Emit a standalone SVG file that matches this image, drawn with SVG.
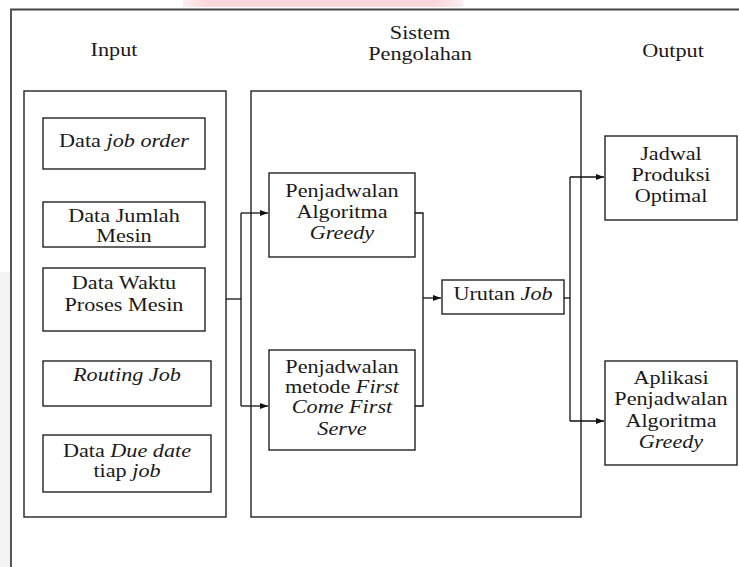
<svg xmlns="http://www.w3.org/2000/svg" width="739" height="567" viewBox="0 0 739 567">
<defs>
<linearGradient id="wm" x1="0" y1="0" x2="1" y2="0">
<stop offset="0" stop-color="#fdeef0"/>
<stop offset="0.1" stop-color="#fbd6da"/>
<stop offset="0.9" stop-color="#fbd6da"/>
<stop offset="1" stop-color="#fdeef0"/>
</linearGradient>
<marker id="arr" markerWidth="9" markerHeight="8" refX="8.5" refY="4" orient="auto" markerUnits="userSpaceOnUse">
<path d="M0,0.8 L8.5,4 L0,7.2 Z" fill="#111"/>
</marker>
</defs>
<style>
text{font-family:"Liberation Serif","Times New Roman",serif;font-size:18.5px;fill:#1a1a1a;text-anchor:middle}
.i{font-style:italic}
.box{fill:#fff;stroke:#222;stroke-width:1.4}
.frame{fill:none;stroke:#444;stroke-width:1.8}
.con{fill:none;stroke:#111;stroke-width:1.3}
</style>
<rect x="0" y="0" width="739" height="567" fill="#fff"/>
<rect x="0" y="272" width="10" height="295" fill="#f3f3f3"/>
<rect x="183" y="0" width="280" height="7" fill="url(#wm)"/>
<path class="frame" d="M11,567 V9.5 H739"/>

<g id="header-input"><text transform="scale(1.2,1)" x="95" y="56">Input</text></g>
<g id="header-sistem"><text transform="scale(1.2,1)" x="350" y="39">Sistem</text><text transform="scale(1.2,1)" x="350" y="60">Pengolahan</text></g>
<g id="header-output"><text transform="scale(1.2,1)" x="560.83" y="57">Output</text></g>

<g id="input-group"><rect class="box" x="24" y="91" width="202" height="426"/></g>
<g id="sistem-group"><rect class="box" x="251" y="91" width="330" height="426"/></g>

<g id="n-job-order"><rect class="box" x="43" y="118" width="162" height="51"/><text transform="scale(1.2,1)" x="103.33" y="147">Data <tspan class="i">job order</tspan></text></g>
<g id="n-jumlah-mesin"><rect class="box" x="43" y="202" width="162" height="45"/><text transform="scale(1.2,1)" x="103.33" y="222">Data Jumlah</text><text transform="scale(1.2,1)" x="103.33" y="242">Mesin</text></g>
<g id="n-waktu-proses"><rect class="box" x="43" y="268" width="162" height="63"/><text transform="scale(1.2,1)" x="103.33" y="289">Data Waktu</text><text transform="scale(1.2,1)" x="103.33" y="311">Proses Mesin</text></g>
<g id="n-routing"><rect class="box" x="43" y="361" width="168" height="45"/><text class="i" transform="scale(1.2,1)" x="105.83" y="381">Routing Job</text></g>
<g id="n-due-date"><rect class="box" x="43" y="435" width="168" height="57"/><text transform="scale(1.2,1)" x="105.83" y="457">Data <tspan class="i">Due date</tspan></text><text transform="scale(1.2,1)" x="105.83" y="477">tiap <tspan class="i">job</tspan></text></g>

<g id="n-greedy"><rect class="box" x="269" y="173" width="146" height="84"/><text transform="scale(1.2,1)" x="285" y="197">Penjadwalan</text><text transform="scale(1.2,1)" x="285" y="218">Algoritma</text><text class="i" transform="scale(1.2,1)" x="285" y="239">Greedy</text></g>
<g id="n-fcfs"><rect class="box" x="269" y="350" width="146" height="100"/><text transform="scale(1.2,1)" x="285" y="373">Penjadwalan</text><text transform="scale(1.2,1)" x="285" y="393">metode <tspan class="i">First</tspan></text><text class="i" transform="scale(1.2,1)" x="285" y="413">Come First</text><text class="i" transform="scale(1.2,1)" x="285" y="435">Serve</text></g>
<g id="n-urutan"><rect class="box" x="442" y="280" width="122" height="34"/><text transform="scale(1.2,1)" x="419.17" y="300">Urutan <tspan class="i">Job</tspan></text></g>

<g id="n-jadwal"><rect class="box" x="605" y="136" width="132" height="84"/><text transform="scale(1.2,1)" x="559.17" y="160">Jadwal</text><text transform="scale(1.2,1)" x="559.17" y="181">Produksi</text><text transform="scale(1.2,1)" x="559.17" y="202">Optimal</text></g>
<g id="n-aplikasi"><rect class="box" x="605" y="361" width="132" height="104"/><text transform="scale(1.2,1)" x="559.17" y="384">Aplikasi</text><text transform="scale(1.2,1)" x="559.17" y="405">Penjadwalan</text><text transform="scale(1.2,1)" x="559.17" y="427">Algoritma</text><text class="i" transform="scale(1.2,1)" x="559.17" y="448">Greedy</text></g>

<g id="connectors">
<path class="con" d="M226,299 H241"/>
<path class="con" d="M241,213 V406"/>
<path class="con" d="M241,213 H268" marker-end="url(#arr)"/>
<path class="con" d="M241,406 H268" marker-end="url(#arr)"/>
<path class="con" d="M415,213 H423 V406 H415"/>
<path class="con" d="M423,298 H441" marker-end="url(#arr)"/>
<path class="con" d="M564,298 H570"/>
<path class="con" d="M570,177 V421"/>
<path class="con" d="M570,177 H604" marker-end="url(#arr)"/>
<path class="con" d="M570,421 H604" marker-end="url(#arr)"/>
</g>
</svg>
